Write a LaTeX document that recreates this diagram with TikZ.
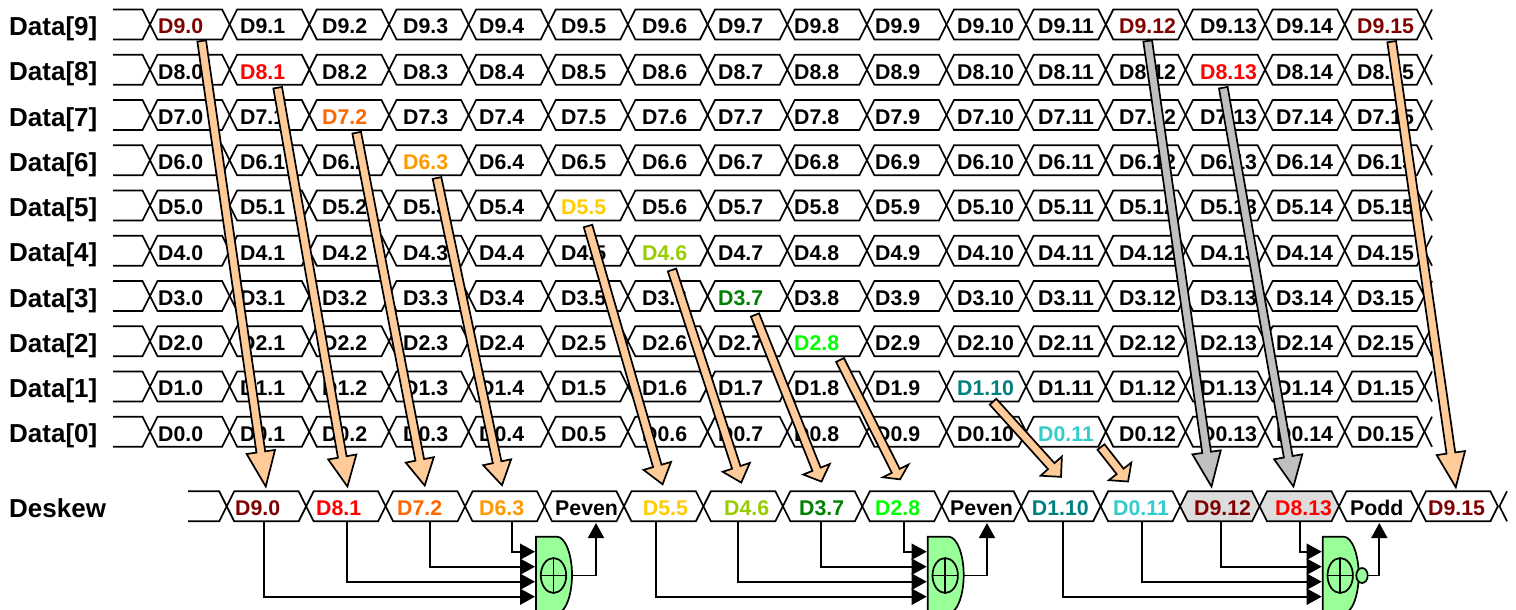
\documentclass[tikz,border=0pt]{standalone}
\usepackage{fontspec}
\setmainfont{Liberation Sans}
\usepackage{tikz}
\usetikzlibrary{arrows.meta,calc}

\definecolor{cnine}{HTML}{800000}
\definecolor{ceight}{HTML}{FF0000}
\definecolor{cseven}{HTML}{FF6600}
\definecolor{csix}{HTML}{FF9900}
\definecolor{cfive}{HTML}{FFCC00}
\definecolor{cfour}{HTML}{99CC00}
\definecolor{cthree}{HTML}{008000}
\definecolor{ctwo}{HTML}{00FF00}
\definecolor{cone}{HTML}{008080}
\definecolor{czero}{HTML}{33CCCC}
\definecolor{peach}{HTML}{FFCC99}
\definecolor{arrowgray}{HTML}{C0C0C0}
\definecolor{cellgray}{HTML}{DDDDDD}
\definecolor{gategreen}{HTML}{99FF99}

\tikzset{
    buscell/.style={draw=black, line width=1.7pt, fill=white, line join=miter},
    celltext/.style={inner sep=0pt, anchor=base west, font=\fontsize{21.3}{24}\selectfont\bfseries},
    rowlabel/.style={inner sep=0pt, anchor=base west, font=\fontsize{26}{30}\selectfont\bfseries},
    wire/.style={draw=black, line width=1.8pt},
    intip/.style={-{Triangle[length=15pt,width=16pt]}},
    blockline/.style={draw=black, line width=1.7pt, line join=miter, miter limit=10},
    gateline/.style={draw=black, line width=1.7pt, fill=gategreen},
    % samples that get a colour in the upper rows
    hl9-0/.style={text=cnine}, hl9-12/.style={text=cnine}, hl9-15/.style={text=cnine},
    hl8-1/.style={text=ceight}, hl8-13/.style={text=ceight},
    hl7-2/.style={text=cseven}, hl6-3/.style={text=csix},
    hl5-5/.style={text=cfive}, hl4-6/.style={text=cfour},
    hl3-7/.style={text=cthree}, hl2-8/.style={text=ctwo},
    hl1-10/.style={text=cone}, hl0-11/.style={text=czero},
    ds12/.style={fill=cellgray}, ds13/.style={fill=cellgray},
}

% hexagon of one bus cell: left point, mid height, cell pitch
\newcommand{\hexcell}[4][]{%
    \draw[buscell,#1] (#2,#3) -- ++(7.5,-15) -- ++(#4-15,0) -- ++(7.5,15)
        -- ++(-7.5,15) -- ++(15-#4,0) -- cycle;}

% block arrow: from, to, head length, fill
\newcommand{\blockarrow}[4]{%
    \coordinate (bt) at ($(#2)!1.5pt!(#1)$);
    \coordinate (bb) at ($(#2)!#3pt!(#1)$);
    \draw[blockline, fill=#4] ($(#1)!4.4pt!90:(#2)$) -- ($(bb)!4.4pt!90:(#2)$)
        -- ($(bb)!14.3pt!90:(#2)$) -- (bt) -- ($(bb)!14.3pt!-90:(#2)$)
        -- ($(bb)!4.4pt!-90:(#2)$) -- ($(#1)!4.4pt!-90:(#2)$) -- cycle;}

% parity gate: name, left edge
\newcommand{\xorgate}[2]{%
    \coordinate (#1-a) at (#2-1,596.7);
    \coordinate (#1-b) at (#2-1,581.7);
    \coordinate (#1-c) at (#2-1,566.7);
    \coordinate (#1-d) at (#2-1,551.7);
    \draw[gateline] (#2,536.7) -- (#2+21,536.7)
        .. controls (#2+29,536.7) and (#2+36,554) .. (#2+36,575)
        .. controls (#2+36,596) and (#2+29,613.3) .. (#2+21,613.3)
        -- (#2,613.3) -- cycle;
    \draw[line width=1.7pt] (#2+17.5,575.5) ellipse [x radius=12.7, y radius=17.5];
    \draw[line width=1.7pt] (#2+4.8,575.5) -- (#2+30.2,575.5);
    \draw[line width=1.7pt] (#2+17.5,558) -- (#2+17.5,593);}

\begin{document}
\begin{tikzpicture}[x=1pt, y=-1pt]
    \useasboundingbox (0,0) rectangle (1516,610);
    \clip (0,0) rectangle (1516,610);

    % Upper rows
    \foreach \r in {9,8,...,0} {
        \pgfmathsetmacro{\rmid}{24.5+45.25*(9-\r)}
        \pgfmathsetmacro{\rtop}{\rmid-15}
        \pgfmathsetmacro{\rbot}{\rmid+15}
        \pgfmathsetmacro{\rbase}{\rmid+9.3}
        \pgfmathsetmacro{\lbase}{\rmid+11}
        \node[rowlabel] (l\r) at (9,\lbase) {Data[\r]};
        \draw[buscell] (113,\rtop) -- (142.5,\rtop) -- (150,\rmid) -- (142.5,\rbot) -- (113,\rbot);
        \draw[buscell] (1432,\rtop) -- (1424.5,\rmid) -- (1432,\rbot);
        \foreach \c/\tx in {0/158,1/240,2/322,3/403,4/479,5/561,6/642,7/718,8/794,9/875,10/957,11/1038,12/1119,13/1200,14/1276,15/1357} {
            \pgfmathsetmacro{\cx}{150+79.65*\c}
            \hexcell{\cx}{\rmid}{79.65}
            \node[celltext, hl\r-\c/.try] (t\r-\c) at (\tx,\rbase) {D\r.\c};
        }
    }

    % Deskew row
    \node[rowlabel] (ldesk) at (9,517) {Deskew};
    \draw[buscell] (188,491.3) -- (219.2,491.3) -- (226.7,506.3) -- (219.2,521.3) -- (188,521.3);
    \draw[buscell] (1507,491.3) -- (1499.5,506.3) -- (1507,521.3);
    \foreach \c/\tx/\lab/\col in {0/235/D9.0/cnine,1/316/D8.1/ceight,2/397/D7.2/cseven,3/479/D6.3/csix,
        4/555/Peven/black,5/642.7/D5.5/cfive,6/724/D4.6/cfour,7/799/D3.7/cthree,8/875/D2.8/ctwo,
        9/950/Peven/black,10/1031.7/D1.10/cone,11/1113/D0.11/czero,12/1194/D9.12/cnine,
        13/1275/D8.13/ceight,14/1350/Podd/black,15/1428/D9.15/cnine} {
        \pgfmathsetmacro{\cx}{226.7+79.45*\c}
        \hexcell[ds\c/.try]{\cx}{506.3}{79.45}
        \node[celltext, text=\col] (ds\c) at (\tx,515.8) {\lab};
    }

    % Parity gates
    \foreach \g/\gx/\ax/\bx/\cx/\dx/\ox in {1/536/264/346.7/430/512.3/596, 2/927.7/655.7/738.3/821.3/904.3/987, 3/1322.7/1062.7/1141.7/1221/1300/1379.3} {
        \coordinate (ga) at (\ax,521.3);
        \coordinate (gb) at (\bx,521.3);
        \coordinate (gc) at (\cx,521.3);
        \coordinate (gd) at (\dx,521.3);
        \coordinate (gup) at (\ox,523);
        \coordinate (gout) at (\gx+36,575.5);
        \xorgate{g\g}{\gx}
        \draw[wire, intip] (ga) |- (g\g-a);
        \draw[wire, intip] (gb) |- (g\g-b);
        \draw[wire, intip] (gc) |- (g\g-c);
        \draw[wire, intip] (gd) |- (g\g-d);
        \draw[wire, intip] (gout) -| (gup);
    }
    % Bubble of the odd gate
    \draw[gateline] (1362,575.5) ellipse [x radius=5.7, y radius=7.5];

    % Start points of the block arrows
    \coordinate (s9-0) at (201.7,41);
    \coordinate (s8-1) at (277.7,87.7);
    \coordinate (s7-2) at (356.7,132.7);
    \coordinate (s6-3) at (437,178);
    \coordinate (s5-5) at (588,226);
    \coordinate (s4-6) at (672,270);
    \coordinate (s3-7) at (755,315);
    \coordinate (s2-8) at (840,360);
    \coordinate (s1-10) at (993,401.7);
    \coordinate (s0-11) at (1101,447);
    \coordinate (s9-12) at (1147.7,41);
    \coordinate (s8-13) at (1223.3,87.7);
    \coordinate (s9-15) at (1391.7,41.7);

    % Tips above the deskew cells
    \coordinate (e0) at (266,488);
    \coordinate (e1) at (347.7,488);
    \coordinate (e2) at (425,487);
    \coordinate (e3) at (502.3,486.7);
    \coordinate (e5) at (663,485.7);
    \coordinate (e6) at (741.7,484);
    \coordinate (e7) at (822,483);
    \coordinate (e8) at (900.7,480.7);
    \coordinate (e10) at (1062,478);
    \coordinate (e11) at (1129,482.7);
    \coordinate (e12) at (1211.7,488);
    \coordinate (e13) at (1293.7,488);
    \coordinate (e15) at (1456,488.7);

    \blockarrow{s9-0}{e0}{36.4}{peach}
    \blockarrow{s8-1}{e1}{31.5}{peach}
    \blockarrow{s7-2}{e2}{27.6}{peach}
    \blockarrow{s6-3}{e3}{25}{peach}
    \blockarrow{s5-5}{e5}{20.6}{peach}
    \blockarrow{s4-6}{e6}{17.5}{peach}
    \blockarrow{s3-7}{e7}{14.8}{peach}
    \blockarrow{s2-8}{e8}{11}{peach}
    \blockarrow{s1-10}{e10}{16}{peach}
    \blockarrow{s0-11}{e11}{14.4}{peach}
    \blockarrow{s9-12}{e12}{36}{arrowgray}
    \blockarrow{s8-13}{e13}{31.7}{arrowgray}
    \blockarrow{s9-15}{e15}{36}{peach}
\end{tikzpicture}
\end{document}
